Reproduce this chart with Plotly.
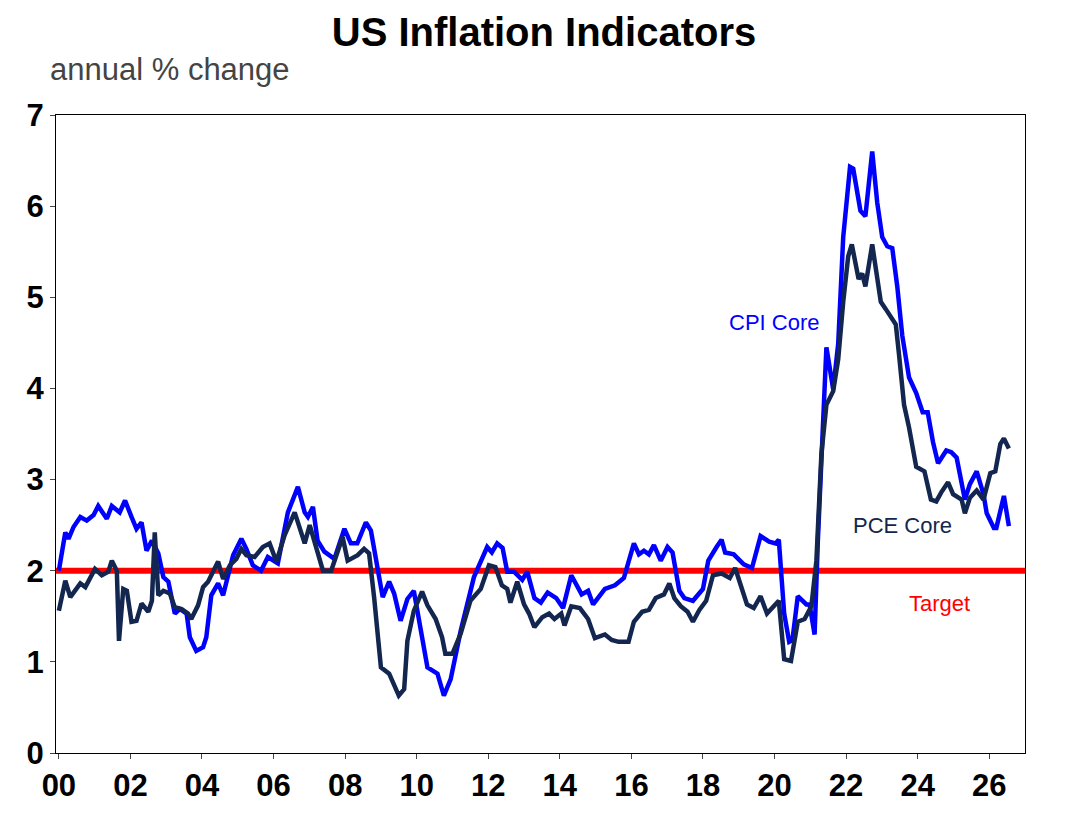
import plotly.graph_objects as go

# decimal years and annual % change
cpi_x = [2000.0, 2000.18, 2000.27, 2000.41, 2000.6, 2000.78, 2000.97, 2001.1, 2001.34, 2001.48, 2001.7, 2001.85,
         2002.03, 2002.17, 2002.31, 2002.45, 2002.6, 2002.78, 2002.92, 2003.06, 2003.24, 2003.38, 2003.57, 2003.66,
         2003.84, 2004.03, 2004.12, 2004.26, 2004.45, 2004.59, 2004.73, 2004.87, 2005.1, 2005.24, 2005.42, 2005.65,
         2005.84, 2006.12, 2006.4, 2006.68, 2006.87, 2006.96, 2007.1, 2007.23, 2007.42, 2007.7, 2007.98, 2008.16,
         2008.34, 2008.58, 2008.72, 2008.95, 2009.05, 2009.23, 2009.37, 2009.55, 2009.74, 2009.92, 2010.06, 2010.3,
         2010.58, 2010.76, 2010.95, 2011.23, 2011.6, 2011.97, 2012.1, 2012.25, 2012.4, 2012.53, 2012.72, 2012.95,
         2013.09, 2013.29, 2013.47, 2013.66, 2013.9, 2014.09, 2014.32, 2014.61, 2014.79, 2014.93, 2015.26, 2015.54,
         2015.79, 2016.07, 2016.21, 2016.35, 2016.49, 2016.63, 2016.82, 2017.01, 2017.15, 2017.34, 2017.48, 2017.72,
         2018.0, 2018.15, 2018.38, 2018.52, 2018.62, 2018.86, 2019.14, 2019.37, 2019.61, 2019.85, 2020.03, 2020.12,
         2020.27, 2020.41, 2020.5, 2020.65, 2020.89, 2020.98, 2021.12, 2021.21, 2021.45, 2021.64, 2021.78, 2021.92,
         2022.11, 2022.2, 2022.4, 2022.54, 2022.73, 2022.87, 2023.01, 2023.15, 2023.29, 2023.43, 2023.57, 2023.76,
         2023.96, 2024.14, 2024.28, 2024.43, 2024.57, 2024.8, 2024.94, 2025.09, 2025.32, 2025.46, 2025.65, 2025.84,
         2025.93, 2026.13, 2026.2, 2026.41, 2026.55]
cpi_y = [2.0, 2.42, 2.35, 2.48, 2.59, 2.55, 2.61, 2.71, 2.57, 2.71, 2.64, 2.77,
         2.59, 2.46, 2.53, 2.22, 2.33, 2.19, 1.93, 1.88, 1.53, 1.58, 1.53, 1.27,
         1.12, 1.16, 1.27, 1.73, 1.86, 1.73, 1.95, 2.17, 2.35, 2.24, 2.06, 2.0,
         2.15, 2.08, 2.64, 2.92, 2.64, 2.59, 2.7, 2.33, 2.21, 2.13, 2.46, 2.3,
         2.3, 2.53, 2.44, 1.93, 1.71, 1.88, 1.75, 1.45, 1.69, 1.78, 1.45, 0.94,
         0.87, 0.63, 0.81, 1.34, 1.93, 2.26, 2.2, 2.3, 2.25, 1.99, 1.99, 1.9,
         1.99, 1.7, 1.65, 1.76, 1.7, 1.59, 1.95, 1.74, 1.78, 1.63, 1.8, 1.84,
         1.92, 2.3, 2.18, 2.22, 2.18, 2.28, 2.11, 2.26, 2.2, 1.78, 1.7, 1.67,
         1.8, 2.11, 2.26, 2.34, 2.2, 2.18, 2.07, 2.03, 2.38, 2.32, 2.3, 2.34,
         1.53, 1.22, 1.24, 1.72, 1.63, 1.63, 1.3, 2.32, 4.45, 3.99, 4.49, 5.66,
         6.43, 6.41, 5.95, 5.89, 6.6, 6.04, 5.66, 5.56, 5.54, 5.12, 4.58, 4.12,
         3.95, 3.74, 3.74, 3.41, 3.18, 3.32, 3.3, 3.24, 2.78, 2.95, 3.09, 2.84,
         2.63, 2.47, 2.47, 2.82, 2.49]

pce_x = [2000.0, 2000.18, 2000.32, 2000.6, 2000.74, 2001.01, 2001.2, 2001.38, 2001.48, 2001.62, 2001.68, 2001.8,
         2001.9, 2002.03, 2002.17, 2002.31, 2002.5, 2002.6, 2002.68, 2002.78, 2002.92, 2003.1, 2003.24, 2003.43,
         2003.61, 2003.7, 2003.89, 2004.03, 2004.17, 2004.31, 2004.45, 2004.59, 2004.78, 2004.96, 2005.1, 2005.24,
         2005.47, 2005.7, 2005.89, 2006.08, 2006.31, 2006.59, 2006.87, 2007.01, 2007.14, 2007.38, 2007.61, 2007.93,
         2008.07, 2008.35, 2008.53, 2008.67, 2008.81, 2009.0, 2009.23, 2009.5, 2009.65, 2009.74, 2009.92, 2010.15,
         2010.3, 2010.53, 2010.71, 2010.8, 2011.0, 2011.23, 2011.5, 2011.79, 2012.02, 2012.2, 2012.38, 2012.53,
         2012.62, 2012.81, 2013.0, 2013.14, 2013.29, 2013.51, 2013.7, 2013.85, 2014.04, 2014.13, 2014.32, 2014.56,
         2014.79, 2014.98, 2015.26, 2015.45, 2015.64, 2015.92, 2016.07, 2016.3, 2016.49, 2016.68, 2016.91, 2017.06,
         2017.2, 2017.38, 2017.57, 2017.72, 2017.9, 2018.09, 2018.28, 2018.52, 2018.75, 2018.9, 2019.04, 2019.23,
         2019.42, 2019.61, 2019.79, 2019.98, 2020.12, 2020.27, 2020.46, 2020.65, 2020.84, 2021.03, 2021.17, 2021.31,
         2021.45, 2021.64, 2021.78, 2021.92, 2022.06, 2022.16, 2022.35, 2022.45, 2022.54, 2022.73, 2022.97, 2023.11,
         2023.29, 2023.39, 2023.48, 2023.62, 2023.76, 2023.96, 2024.19, 2024.37, 2024.52, 2024.66, 2024.85, 2024.99,
         2025.23, 2025.32, 2025.46, 2025.65, 2025.84, 2026.03, 2026.17, 2026.31, 2026.41, 2026.55]
pce_y = [1.56, 1.89, 1.71, 1.86, 1.82, 2.02, 1.95, 1.99, 2.11, 2.0, 1.23, 1.8,
         1.78, 1.44, 1.45, 1.64, 1.55, 1.67, 2.42, 1.73, 1.78, 1.75, 1.6, 1.58,
         1.53, 1.47, 1.62, 1.82, 1.88, 2.0, 2.1, 1.91, 2.06, 2.13, 2.24, 2.17,
         2.15, 2.26, 2.3, 2.1, 2.39, 2.64, 2.3, 2.5, 2.33, 2.0, 2.0, 2.37,
         2.11, 2.17, 2.24, 2.19, 1.71, 0.94, 0.87, 0.63, 0.7, 1.23, 1.56, 1.77,
         1.62, 1.47, 1.27, 1.09, 1.09, 1.31, 1.67, 1.8, 2.06, 2.04, 1.84, 1.8,
         1.65, 1.88, 1.63, 1.53, 1.38, 1.49, 1.53, 1.47, 1.53, 1.4, 1.61, 1.59,
         1.47, 1.26, 1.3, 1.24, 1.22, 1.22, 1.44, 1.55, 1.57, 1.7, 1.74, 1.86,
         1.7, 1.61, 1.55, 1.44, 1.57, 1.67, 1.95, 1.97, 1.92, 2.03, 1.86, 1.63,
         1.59, 1.72, 1.53, 1.61, 1.67, 1.03, 1.01, 1.44, 1.47, 1.61, 2.11, 3.28,
         3.82, 3.97, 4.32, 4.95, 5.45, 5.58, 5.2, 5.26, 5.12, 5.58, 4.95, 4.87,
         4.76, 4.7, 4.37, 3.82, 3.57, 3.14, 3.09, 2.78, 2.76, 2.86, 2.97, 2.84,
         2.78, 2.63, 2.8, 2.88, 2.78, 3.07, 3.09, 3.39, 3.45, 3.34]

target = 2.0
tick_years = list(range(2000, 2027, 2))
tick_labels = ["%02d" % (y % 100) for y in tick_years]

fig = go.Figure()
fig.add_hline(y=target, line=dict(color="#ff0000", width=6), layer="below")
fig.add_trace(go.Scatter(x=cpi_x, y=cpi_y, mode="lines", line=dict(color="#0000ff", width=4.5), name="CPI Core"))
fig.add_trace(go.Scatter(x=pce_x, y=pce_y, mode="lines", line=dict(color="#13264f", width=4.5), name="PCE Core"))

fig.add_annotation(x=2021.31, y=4.72, text="CPI Core", showarrow=False, xanchor="right",
                   font=dict(color="#0000ff", size=22))
fig.add_annotation(x=2023.57, y=2.5, text="PCE Core", showarrow=False,
                   font=dict(color="#13264f", size=22))
fig.add_annotation(x=2024.62, y=1.64, text="Target", showarrow=False,
                   font=dict(color="#ff0000", size=22))

fig.update_layout(
    width=1072, height=835,
    paper_bgcolor="white", plot_bgcolor="white",
    font=dict(family="Arial, Liberation Sans", color="black"),
    showlegend=False,
    margin=dict(l=48, r=55, t=107, b=90),
    title=dict(text="<b>US Inflation Indicators</b>", x=0.5, xanchor="center", y=0.988, yanchor="top",
               font=dict(size=40)),
    annotations=list(fig.layout.annotations) + [
        dict(text="annual % change", xref="paper", yref="paper", x=-0.008, y=1.04, xanchor="left",
             yanchor="bottom", showarrow=False, font=dict(size=31, color="#444444"))
    ],
)
fig.update_xaxes(range=[1999.92, 2027.0], tickvals=tick_years, ticktext=tick_labels,
                 tickfont=dict(size=31, weight="bold"), ticks="outside", ticklen=5,
                 showgrid=False, showline=True, linecolor="black", mirror=True, zeroline=False)
fig.update_yaxes(range=[0, 7], dtick=1, tickfont=dict(size=31, weight="bold"),
                 ticks="outside", ticklen=5, showgrid=False, showline=True, linecolor="black",
                 mirror=True, zeroline=False)

fig.write_html("out.html")
